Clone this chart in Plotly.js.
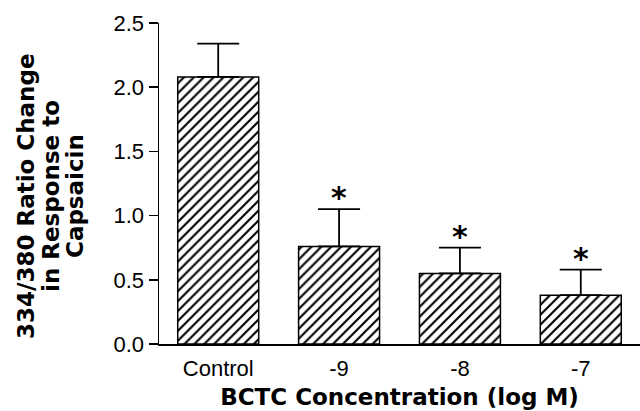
<!DOCTYPE html>
<html>
<head>
<meta charset="utf-8">
<script src="https://cdn.plot.ly/plotly-3.0.1.min.js"></script>
<style>html,body{margin:0;padding:0;background:#fff;}#chart{width:640px;height:411px;}</style>
</head>
<body>
<div id="chart"></div>
<script>
const categories = ["Control", "-9", "-8", "-7"];
const meanValues = [2.08, 0.76, 0.55, 0.38];
const semValues = [0.26, 0.29, 0.20, 0.20];
const significant = [false, true, true, true];
const yTickValues = [0, 0.5, 1.0, 1.5, 2.0, 2.5];
const yTitleLines = ["334/380 Ratio Change", "in Response to", "Capsaicin"];
const xTitle = "BCTC Concentration (log M)";

const W = 640, H = 411, L = 159, R = 0, T = 23, B = 67;
const plotW = W - L - R, plotH = H - T - B;
function paperX(px) { return (px - L) / plotW; }
function paperY(py) { return (H - B - py) / plotH; }

const xIdx = categories.map((c, i) => i);

const trace = {
  type: "bar",
  x: xIdx,
  y: meanValues,
  width: 0.67,
  marker: {
    color: "#ffffff",
    line: { color: "#000000", width: 1.5 },
    pattern: { shape: "/", fgcolor: "#000000", bgcolor: "#ffffff", size: 7, solidity: 0.3 }
  },
  error_y: {
    type: "data",
    symmetric: false,
    array: semValues,
    arrayminus: semValues.map(() => 0),
    color: "#000000",
    thickness: 1.8,
    width: 21
  },
  hoverinfo: "skip"
};

const annotations = [];
const yLineX = [26, 51, 75];
yTitleLines.forEach((t, i) => {
  annotations.push({
    text: t, xref: "paper", yref: "paper",
    x: paperX(yLineX[i]), y: paperY(196),
    xanchor: "center", yanchor: "middle",
    textangle: -90, showarrow: false,
    font: { family: "DejaVu Sans", size: 23, color: "#000", weight: "bold" }
  });
});
significant.forEach((s, i) => {
  if (!s) return;
  annotations.push({
    text: "*", xref: "x", yref: "y",
    x: xIdx[i], y: meanValues[i] + semValues[i],
    xanchor: "center", yanchor: "bottom", yshift: -8,
    showarrow: false,
    font: { family: "DejaVu Sans", size: 30, color: "#000", weight: "bold" }
  });
});

const layout = {
  width: W, height: H,
  margin: { l: L, r: R, t: T, b: B, pad: 0 },
  paper_bgcolor: "#ffffff", plot_bgcolor: "#ffffff",
  showlegend: false,
  font: { family: "Liberation Sans, Arial, sans-serif", color: "#000" },
  xaxis: {
    range: [-0.49, 3.49],
    tickmode: "array", tickvals: xIdx, ticktext: categories,
    ticks: "outside", ticklen: 4, tickcolor: "rgba(0,0,0,0)",
    showline: true, linecolor: "#000", linewidth: 1.5,
    showgrid: false, zeroline: false,
    tickfont: { family: "Liberation Sans, Arial, sans-serif", size: 22, color: "#000" },
    title: { text: xTitle, standoff: 9, font: { family: "DejaVu Sans", size: 23, color: "#000", weight: "bold" } },
    automargin: false, fixedrange: true
  },
  yaxis: {
    range: [0, 2.5],
    tickmode: "array", tickvals: yTickValues, ticktext: yTickValues.map(v => v.toFixed(1)),
    ticks: "outside", ticklen: 9, tickwidth: 1.5, tickcolor: "#000",
    showline: true, linecolor: "#000", linewidth: 1.5,
    showgrid: false, zeroline: false,
    tickfont: { family: "Liberation Sans, Arial, sans-serif", size: 22, color: "#000" },
    automargin: false, fixedrange: true
  },
  annotations: annotations
};

Plotly.newPlot("chart", [trace], layout, { staticPlot: true, displayModeBar: false });
</script>
</body>
</html>
